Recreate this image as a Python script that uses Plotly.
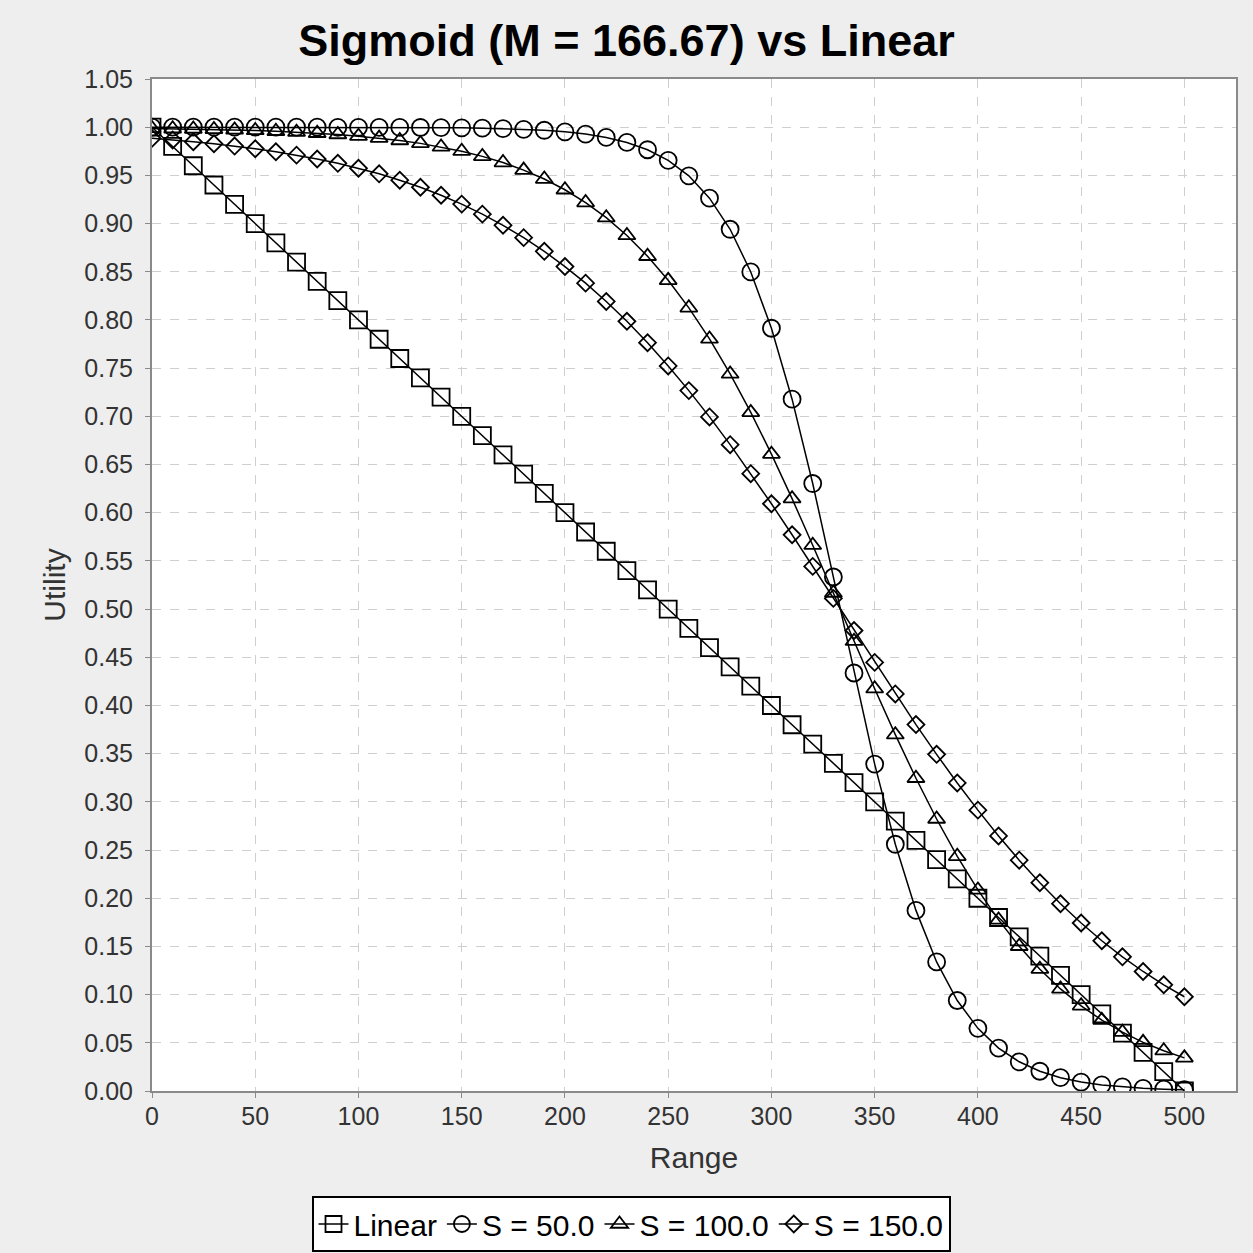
import plotly.graph_objects as go

range_x = [0, 10, 20, 30, 40, 50, 60, 70, 80, 90, 100, 110, 120, 130, 140, 150, 160, 170, 180, 190,
           200, 210, 220, 230, 240, 250, 260, 270, 280, 290, 300, 310, 320, 330, 340, 350, 360, 370,
           380, 390, 400, 410, 420, 430, 440, 450, 460, 470, 480, 490, 500]

linear = [1.00, 0.98, 0.96, 0.94, 0.92, 0.90, 0.88, 0.86, 0.84, 0.82, 0.80, 0.78, 0.76, 0.74, 0.72,
          0.70, 0.68, 0.66, 0.64, 0.62, 0.60, 0.58, 0.56, 0.54, 0.52, 0.50, 0.48, 0.46, 0.44, 0.42,
          0.40, 0.38, 0.36, 0.34, 0.32, 0.30, 0.28, 0.26, 0.24, 0.22, 0.20, 0.18, 0.16, 0.14, 0.12,
          0.10, 0.08, 0.06, 0.04, 0.02, 0.00]

s50 = [1.0000, 1.0000, 1.0000, 1.0000, 1.0000, 1.0000, 1.0000, 1.0000, 1.0000, 0.9999, 0.9999,
       0.9999, 0.9998, 0.9997, 0.9996, 0.9993, 0.9990, 0.9985, 0.9978, 0.9968, 0.9952, 0.9929,
       0.9894, 0.9842, 0.9766, 0.9656, 0.9495, 0.9264, 0.8941, 0.8498, 0.7914, 0.7178, 0.6303,
       0.5333, 0.4337, 0.3392, 0.2560, 0.1874, 0.1339, 0.0939, 0.0650, 0.0445, 0.0303, 0.0205,
       0.0138, 0.0093, 0.0063, 0.0042, 0.0028, 0.0019, 0.0013]

s100 = [0.9987, 0.9984, 0.9981, 0.9977, 0.9972, 0.9966, 0.9958, 0.9949, 0.9937, 0.9924, 0.9907,
        0.9887, 0.9862, 0.9832, 0.9795, 0.9751, 0.9697, 0.9633, 0.9555, 0.9462, 0.9351, 0.9218,
        0.9061, 0.8877, 0.8661, 0.8411, 0.8126, 0.7803, 0.7440, 0.7041, 0.6608, 0.6146, 0.5663,
        0.5167, 0.4667, 0.4174, 0.3697, 0.3245, 0.2822, 0.2435, 0.2086, 0.1775, 0.1502, 0.1264,
        0.1059, 0.0884, 0.0735, 0.0610, 0.0505, 0.0418, 0.0344]

s150 = [0.9884, 0.9868, 0.9849, 0.9828, 0.9804, 0.9776, 0.9745, 0.9710, 0.9670, 0.9625, 0.9574,
        0.9516, 0.9450, 0.9377, 0.9294, 0.9202, 0.9098, 0.8982, 0.8854, 0.8712, 0.8554, 0.8382,
        0.8192, 0.7986, 0.7764, 0.7523, 0.7267, 0.6994, 0.6706, 0.6405, 0.6093, 0.5771, 0.5443,
        0.5111, 0.4778, 0.4447, 0.4120, 0.3802, 0.3493, 0.3196, 0.2914, 0.2646, 0.2395, 0.2161,
        0.1943, 0.1743, 0.1559, 0.1392, 0.1240, 0.1102, 0.0978]

series = [
    ("Linear", linear, "square-open", 17),
    ("S = 50.0", s50, "circle-open", 17),
    ("S = 100.0", s100, "triangle-up-open", 15),
    ("S = 150.0", s150, "diamond-open", 13),
]

FONT = "Liberation Sans, Arial, sans-serif"

fig = go.Figure()
for name, vals, sym, sz in series:
    fig.add_trace(go.Scatter(
        x=range_x, y=vals, name=name, mode="lines+markers",
        line=dict(color="black", width=1.5),
        marker=dict(symbol=sym, size=sz, color="black", line=dict(color="black", width=1.8)),
    ))

grid = dict(showgrid=True, gridcolor="#cfcfcf", gridwidth=1, griddash="dash",
            showline=True, linecolor="#8a8a8a", linewidth=2, mirror=True,
            ticks="outside", ticklen=5, tickcolor="#8a8a8a", zeroline=False,
            tickfont=dict(family=FONT, size=25, color="#333333"))

fig.update_layout(
    width=1253, height=1253,
    paper_bgcolor="#eeeeee", plot_bgcolor="white",
    margin=dict(l=152, r=17, t=79, b=162, autoexpand=False),
    title=dict(text="<b>Sigmoid (M = 166.67) vs Linear</b>", x=0.5, xanchor="center",
               y=1 - 40 / 1253, yanchor="middle",
               font=dict(family=FONT, size=45, color="black")),
    xaxis=dict(range=[0, 525], tickmode="linear", tick0=0, dtick=50,
               ticklabelstandoff=-3,
               title=dict(text="Range", standoff=18,
                          font=dict(family=FONT, size=30, color="#333333")),
               **grid),
    yaxis=dict(range=[0, 1.05], tickmode="linear", tick0=0, dtick=0.05, tickformat=".2f",
               ticklabelstandoff=7,
               title=dict(text="Utility", standoff=10,
                          font=dict(family=FONT, size=30, color="#333333")),
               **grid),
    legend=dict(orientation="h", x=631 / 1253, xref="container", xanchor="center",
                y=1 - 1196 / 1253, yref="container", yanchor="top",
                bgcolor="white", bordercolor="black", borderwidth=2,
                itemwidth=30, tracegroupgap=0,
                font=dict(family=FONT, size=30, color="black")),
    showlegend=True,
)

fig.write_html("out.html")
